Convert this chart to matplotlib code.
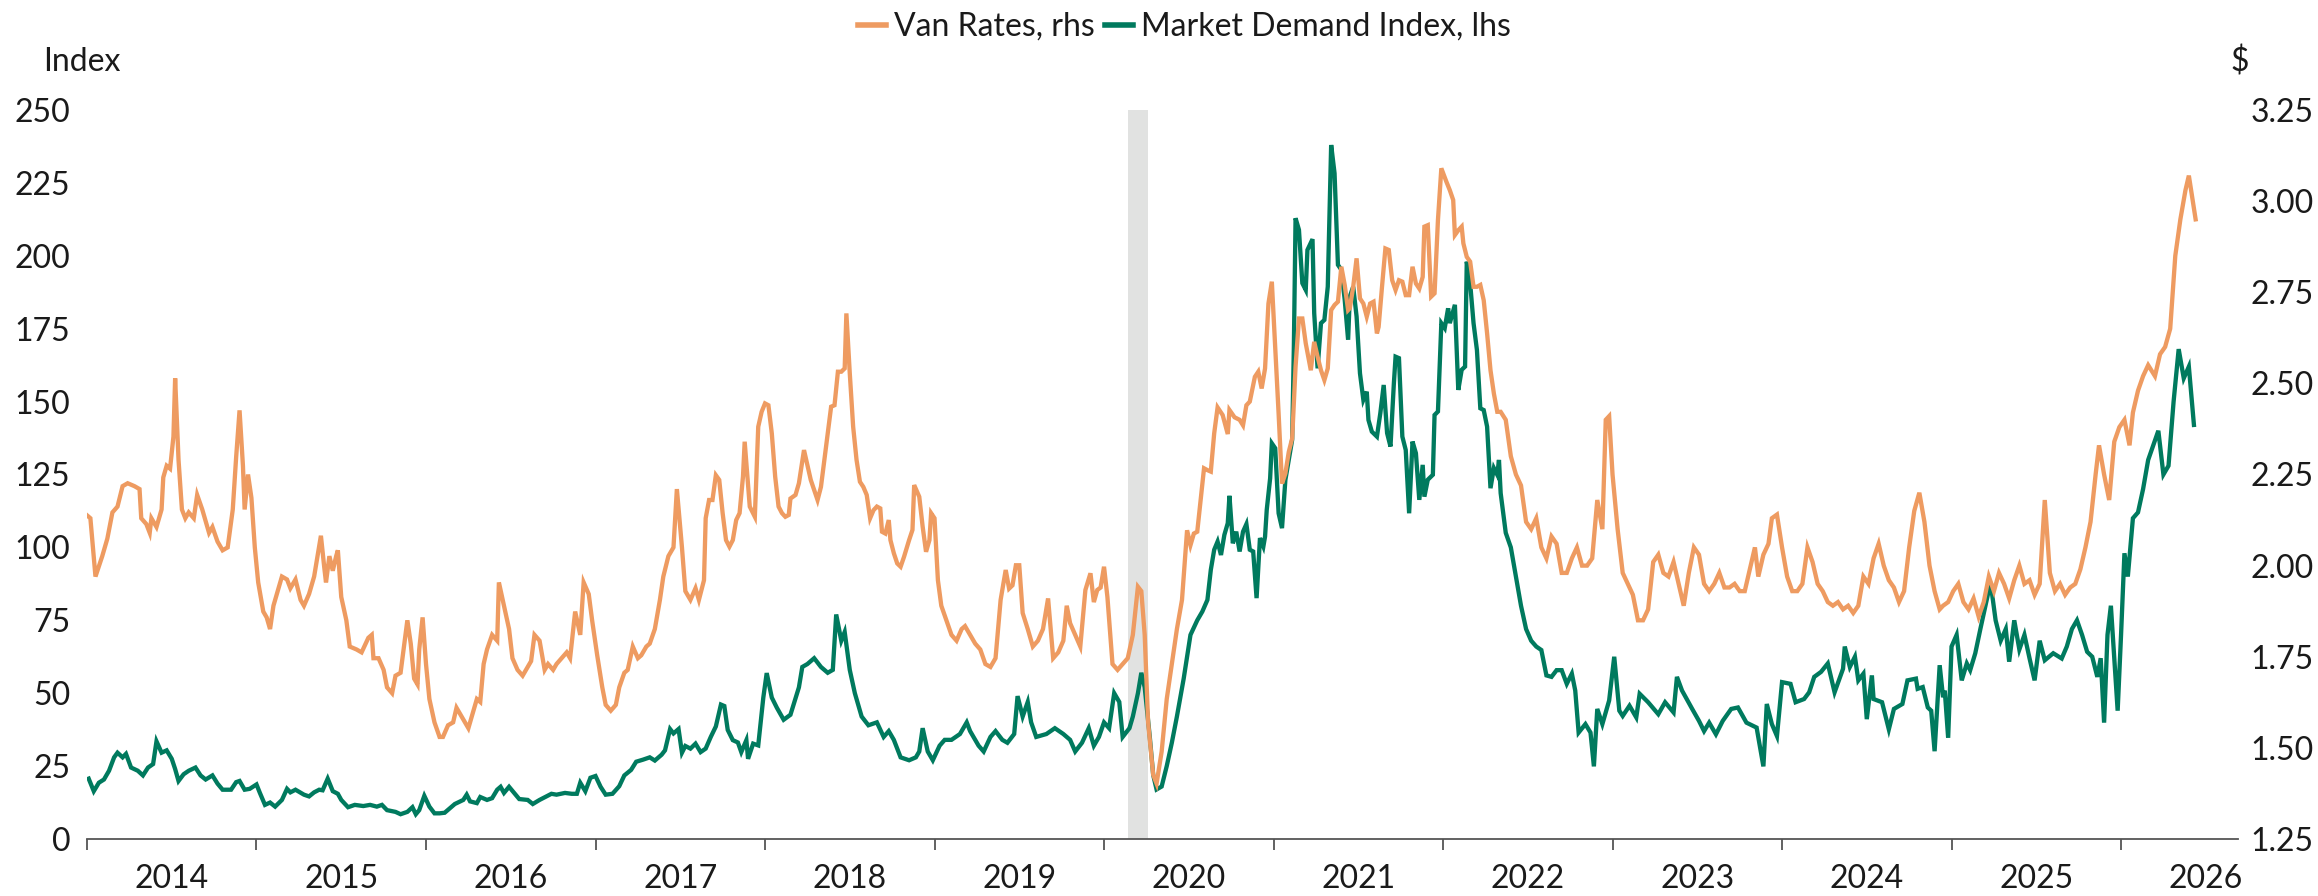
import matplotlib.pyplot as plt
from matplotlib.lines import Line2D
import numpy as np

plt.rcParams['font.family'] = ['Lato', 'DejaVu Sans']

# Market Demand Index (lhs), decimal years
mdi_years = [
    2014.01, 2014.04, 2014.07, 2014.10, 2014.13, 2014.16, 2014.18, 2014.21, 2014.23, 2014.26,
    2014.30, 2014.33, 2014.36, 2014.39, 2014.41, 2014.44, 2014.47, 2014.50, 2014.52, 2014.54,
    2014.57, 2014.60, 2014.64, 2014.67, 2014.70, 2014.74, 2014.77, 2014.80, 2014.85, 2014.88,
    2014.90, 2014.93, 2014.96, 2015.00, 2015.02, 2015.05, 2015.08, 2015.11, 2015.15, 2015.18,
    2015.20, 2015.23, 2015.28, 2015.31, 2015.34, 2015.37, 2015.39, 2015.42, 2015.45, 2015.48,
    2015.50, 2015.54, 2015.58, 2015.63, 2015.67, 2015.71, 2015.74, 2015.77, 2015.82, 2015.85,
    2015.89, 2015.92, 2015.94, 2015.96, 2015.99, 2016.02, 2016.05, 2016.08, 2016.11, 2016.14,
    2016.17, 2016.22, 2016.24, 2016.26, 2016.30, 2016.32, 2016.36, 2016.39, 2016.42, 2016.44,
    2016.46, 2016.49, 2016.52, 2016.55, 2016.60, 2016.63, 2016.67, 2016.71, 2016.74, 2016.77,
    2016.82, 2016.86, 2016.89, 2016.91, 2016.94, 2016.97, 2017.00, 2017.03, 2017.06, 2017.10,
    2017.14, 2017.17, 2017.21, 2017.24, 2017.28, 2017.32, 2017.35, 2017.39, 2017.41, 2017.44,
    2017.46, 2017.49, 2017.51, 2017.53, 2017.56, 2017.59, 2017.62, 2017.65, 2017.68, 2017.71,
    2017.74, 2017.76, 2017.78, 2017.81, 2017.84, 2017.86, 2017.89, 2017.90, 2017.93, 2017.96,
    2017.99, 2018.01, 2018.04, 2018.07, 2018.11, 2018.15, 2018.20, 2018.22, 2018.25, 2018.29,
    2018.33, 2018.37, 2018.40, 2018.42, 2018.45, 2018.47, 2018.50, 2018.53, 2018.57, 2018.61,
    2018.66, 2018.70, 2018.73, 2018.76, 2018.80, 2018.85, 2018.89, 2018.91, 2018.93, 2018.96,
    2018.99, 2019.03, 2019.06, 2019.10, 2019.15, 2019.19, 2019.21, 2019.26, 2019.29, 2019.33,
    2019.36, 2019.40, 2019.43, 2019.47, 2019.49, 2019.52, 2019.55, 2019.57, 2019.60, 2019.66,
    2019.71, 2019.76, 2019.80, 2019.83, 2019.87, 2019.91, 2019.94, 2019.97, 2020.00, 2020.03,
    2020.06, 2020.09, 2020.11, 2020.15, 2020.17, 2020.20, 2020.22, 2020.24, 2020.27, 2020.29,
    2020.31, 2020.34, 2020.37, 2020.40, 2020.43, 2020.47, 2020.51, 2020.55, 2020.58, 2020.61,
    2020.63, 2020.65, 2020.67, 2020.69, 2020.71, 2020.73, 2020.74, 2020.76, 2020.78, 2020.80,
    2020.82, 2020.84, 2020.86, 2020.88, 2020.90, 2020.92, 2020.94, 2020.95, 2020.96, 2020.98,
    2020.99, 2021.01, 2021.03, 2021.05, 2021.07, 2021.09, 2021.11, 2021.12, 2021.13, 2021.15,
    2021.17, 2021.19, 2021.20, 2021.23, 2021.24, 2021.26, 2021.28, 2021.30, 2021.32, 2021.34,
    2021.36, 2021.38, 2021.40, 2021.42, 2021.44, 2021.45, 2021.47, 2021.49, 2021.51, 2021.53,
    2021.55, 2021.56, 2021.58, 2021.61, 2021.63, 2021.65, 2021.67, 2021.69, 2021.71, 2021.72,
    2021.74, 2021.76, 2021.78, 2021.80, 2021.82, 2021.84, 2021.86, 2021.88, 2021.89, 2021.91,
    2021.94, 2021.95, 2021.97, 2021.99, 2022.01, 2022.03, 2022.04, 2022.07, 2022.09, 2022.11,
    2022.13, 2022.14, 2022.16, 2022.18, 2022.20, 2022.22, 2022.24, 2022.26, 2022.28, 2022.30,
    2022.32, 2022.33, 2022.34, 2022.37, 2022.40, 2022.43, 2022.46, 2022.49, 2022.52, 2022.55,
    2022.58, 2022.61, 2022.64, 2022.67, 2022.70, 2022.73, 2022.76, 2022.78, 2022.80, 2022.84,
    2022.87, 2022.89, 2022.91, 2022.94, 2022.98, 2023.01, 2023.04, 2023.06, 2023.10, 2023.14,
    2023.16, 2023.21, 2023.27, 2023.31, 2023.36, 2023.38, 2023.41, 2023.47, 2023.51, 2023.54,
    2023.57, 2023.61, 2023.65, 2023.70, 2023.74, 2023.79, 2023.85, 2023.89, 2023.91, 2023.94,
    2023.97, 2024.00, 2024.05, 2024.08, 2024.13, 2024.16, 2024.19, 2024.23, 2024.27, 2024.31,
    2024.36, 2024.37, 2024.40, 2024.43, 2024.45, 2024.48, 2024.50, 2024.53, 2024.54, 2024.59,
    2024.63, 2024.66, 2024.71, 2024.74, 2024.79, 2024.80, 2024.83, 2024.86, 2024.88, 2024.90,
    2024.93, 2024.95, 2024.96, 2024.98, 2025.00, 2025.03, 2025.06, 2025.09, 2025.11, 2025.14,
    2025.17, 2025.20, 2025.23, 2025.26, 2025.29, 2025.32, 2025.34, 2025.37, 2025.40, 2025.43,
    2025.46, 2025.49, 2025.52, 2025.55, 2025.60, 2025.65, 2025.68, 2025.71, 2025.74, 2025.77,
    2025.80, 2025.83, 2025.86, 2025.88, 2025.90, 2025.92, 2025.94, 2025.96, 2025.98, 2026.00,
    2026.02, 2026.04, 2026.07, 2026.10, 2026.13, 2026.16, 2026.19, 2026.22, 2026.25, 2026.28,
    2026.31, 2026.34, 2026.37, 2026.40, 2026.43,
]
mdi_values = [
    20.7, 16.4, 19.3, 20.4, 23.4, 28.0, 29.6, 28.0, 29.2, 24.5,
    23.4, 21.8, 24.5, 25.7, 33.5, 29.6, 30.4, 27.5, 24.0, 19.9,
    22.2, 23.4, 24.5, 21.8, 20.4, 21.8, 19.0, 16.9, 16.9, 19.5,
    19.9, 16.9, 17.2, 18.7, 15.8, 11.7, 12.5, 11.1, 13.4, 17.2,
    16.0, 16.9, 15.2, 14.6, 16.0, 16.9, 16.7, 20.7, 16.4, 15.5,
    13.4, 10.9, 11.7, 11.3, 11.7, 11.1, 11.7, 9.9, 9.3, 8.5,
    9.3, 10.9, 8.5, 9.9, 14.8, 11.1, 8.8, 8.8, 9.0, 10.5,
    12.0, 13.4, 15.2, 12.9, 12.3, 14.4, 13.4, 14.0, 16.9, 17.9,
    15.8, 17.9, 15.8, 13.7, 13.4, 12.0, 13.4, 14.6, 15.5, 15.2,
    15.8, 15.5, 15.5, 19.3, 16.4, 21.0, 21.6, 17.9, 15.2, 15.5,
    18.1, 21.8, 23.7, 26.5, 27.2, 28.0, 26.9, 28.9, 30.4, 37.7,
    36.2, 37.7, 29.6, 31.9, 31.0, 32.7, 29.8, 31.0, 35.0, 38.6,
    46.1, 45.6, 37.4, 33.9, 33.1, 29.8, 33.9, 27.5, 32.7, 32.1,
    48.5, 56.9, 48.5, 45.0, 40.9, 42.6, 52.0, 59.0, 60.0, 62.0,
    59.0, 57.0, 58.0, 77.0, 68.0, 71.0, 58.0, 50.0, 42.0, 39.0,
    40.0, 35.0, 37.0, 34.0, 28.0, 27.0, 28.0, 30.0, 38.0, 30.0,
    27.0, 32.0, 34.0, 34.0, 36.0, 40.0, 37.0, 32.0, 30.0, 35.0,
    37.0, 34.0, 33.0, 36.0, 49.0, 42.0, 47.0, 40.0, 35.0, 36.0,
    38.0, 36.0, 34.0, 30.0, 33.0, 38.0, 32.0, 35.0, 40.0, 38.0,
    50.0, 47.0, 35.0, 38.0, 42.0, 50.0, 57.0, 52.0, 35.0, 22.0,
    17.0, 18.0, 25.0, 33.0, 42.0, 55.0, 70.0, 75.0, 78.0, 82.0,
    92.3, 99.2, 102.0, 97.4, 104.3, 108.3, 117.7, 101.4, 105.4, 98.6,
    105.4, 108.0, 99.2, 98.6, 82.6, 103.2, 100.3, 103.7, 112.9, 123.7,
    135.7, 134.0, 111.7, 106.6, 123.2, 130.0, 136.9, 168.9, 212.9, 208.9,
    190.6, 188.3, 202.0, 205.7, 180.3, 161.4, 176.9, 178.0, 189.4, 238.0,
    228.3, 196.9, 195.2, 184.9, 171.2, 186.0, 189.4, 179.2, 159.7, 150.6,
    153.4, 143.7, 139.7, 138.0, 146.0, 155.7, 139.2, 134.6, 156.3, 165.4,
    164.9, 138.0, 133.4, 111.7, 136.3, 132.3, 116.3, 128.3, 117.4, 123.2,
    124.9, 145.4, 146.6, 176.9, 175.2, 182.0, 176.9, 183.2, 154.0, 160.9,
    162.0, 198.0, 190.6, 176.9, 167.7, 147.7, 147.1, 141.4, 120.3, 127.2,
    124.9, 130.0, 118.6, 105.0, 100.0, 90.0, 80.0, 72.0, 68.0, 66.0,
    64.8, 56.1, 55.6, 57.9, 57.9, 53.2, 56.7, 50.9, 36.5, 39.4,
    36.5, 24.9, 44.6, 39.4, 47.5, 62.5, 44.0, 42.2, 45.7, 41.7,
    49.8, 46.9, 42.8, 46.9, 43.4, 55.6, 50.9, 44.6, 40.5, 37.0,
    39.9, 35.9, 40.5, 44.6, 45.1, 39.9, 38.2, 24.9, 46.3, 39.4,
    35.3, 53.8, 53.2, 46.9, 48.0, 50.3, 55.6, 57.3, 60.2, 50.3,
    58.4, 66.0, 59.0, 62.5, 54.4, 56.7, 41.1, 56.1, 48.0, 46.9,
    37.6, 44.6, 46.3, 54.4, 55.0, 51.5, 52.1, 45.1, 44.0, 30.1,
    59.6, 48.6, 50.9, 34.7, 66.0, 70.0, 54.4, 60.2, 57.9, 63.7,
    72.0, 80.0, 88.0, 75.0, 68.0, 72.0, 60.8, 75.0, 65.0, 70.0,
    62.0, 54.4, 68.0, 61.3, 63.7, 61.9, 66.0, 72.0, 75.0, 70.0,
    64.2, 62.5, 55.6, 62.0, 39.9, 70.0, 80.0, 62.0, 44.0, 70.0,
    98.0, 90.0, 110.0, 112.0, 120.0, 130.0, 135.0, 140.0, 125.0, 128.0,
    150.0, 168.0, 158.0, 162.0, 142.0,
]

# Van Rates (rhs, $/mile), decimal years
van_years = [
    2014.00, 2014.02, 2014.05, 2014.09, 2014.12, 2014.15, 2014.18, 2014.21, 2014.24, 2014.28,
    2014.31, 2014.32, 2014.35, 2014.37, 2014.38, 2014.41, 2014.44, 2014.45, 2014.47, 2014.49,
    2014.51, 2014.52, 2014.54, 2014.56, 2014.58, 2014.60, 2014.63, 2014.65, 2014.68, 2014.72,
    2014.74, 2014.77, 2014.80, 2014.83, 2014.86, 2014.88, 2014.90, 2014.92, 2014.93, 2014.95,
    2014.97, 2014.99, 2015.01, 2015.04, 2015.06, 2015.08, 2015.10, 2015.13, 2015.15, 2015.18,
    2015.20, 2015.23, 2015.26, 2015.28, 2015.31, 2015.34, 2015.36, 2015.38, 2015.40, 2015.41,
    2015.43, 2015.45, 2015.47, 2015.48, 2015.50, 2015.53, 2015.55, 2015.59, 2015.62, 2015.66,
    2015.68, 2015.69, 2015.72, 2015.75, 2015.77, 2015.80, 2015.82, 2015.85, 2015.87, 2015.89,
    2015.91, 2015.93, 2015.95, 2015.96, 2015.98, 2016.00, 2016.02, 2016.05, 2016.08, 2016.10,
    2016.13, 2016.16, 2016.18, 2016.20, 2016.23, 2016.25, 2016.28, 2016.30, 2016.32, 2016.34,
    2016.36, 2016.39, 2016.42, 2016.43, 2016.46, 2016.49, 2016.51, 2016.54, 2016.57, 2016.59,
    2016.62, 2016.64, 2016.67, 2016.70, 2016.72, 2016.75, 2016.77, 2016.80, 2016.83, 2016.85,
    2016.88, 2016.91, 2016.93, 2016.96, 2016.98, 2017.01, 2017.04, 2017.06, 2017.09, 2017.12,
    2017.14, 2017.17, 2017.19, 2017.22, 2017.25, 2017.27, 2017.30, 2017.32, 2017.35, 2017.38,
    2017.40, 2017.43, 2017.46, 2017.48, 2017.51, 2017.53, 2017.56, 2017.59, 2017.61, 2017.64,
    2017.65, 2017.67, 2017.69, 2017.71, 2017.73, 2017.75, 2017.77, 2017.79, 2017.81, 2017.83,
    2017.85, 2017.87, 2017.88, 2017.91, 2017.94, 2017.96, 2017.98, 2018.00, 2018.02, 2018.04,
    2018.06, 2018.08, 2018.10, 2018.12, 2018.14, 2018.15, 2018.18, 2018.20, 2018.23, 2018.27,
    2018.31, 2018.33, 2018.36, 2018.39, 2018.41, 2018.43, 2018.45, 2018.47, 2018.48, 2018.50,
    2018.52, 2018.54, 2018.56, 2018.58, 2018.60, 2018.62, 2018.64, 2018.66, 2018.68, 2018.69,
    2018.71, 2018.73, 2018.74, 2018.76, 2018.78, 2018.80, 2018.82, 2018.85, 2018.87, 2018.88,
    2018.91, 2018.93, 2018.95, 2018.97, 2018.98, 2019.00, 2019.02, 2019.04, 2019.07, 2019.10,
    2019.13, 2019.16, 2019.18, 2019.21, 2019.24, 2019.27, 2019.30, 2019.33, 2019.36, 2019.39,
    2019.42, 2019.44, 2019.46, 2019.48, 2019.50, 2019.52, 2019.55, 2019.58, 2019.61, 2019.64,
    2019.67, 2019.70, 2019.73, 2019.76, 2019.78, 2019.80, 2019.83, 2019.86, 2019.89, 2019.92,
    2019.94, 2019.96, 2019.98, 2020.00, 2020.02, 2020.05, 2020.08, 2020.11, 2020.14, 2020.17,
    2020.20, 2020.22, 2020.24, 2020.26, 2020.29, 2020.31, 2020.34, 2020.37, 2020.40, 2020.43,
    2020.46, 2020.49, 2020.51, 2020.53, 2020.55, 2020.57, 2020.59, 2020.61, 2020.63, 2020.65,
    2020.67, 2020.70, 2020.73, 2020.74, 2020.77, 2020.80, 2020.82, 2020.84, 2020.86, 2020.89,
    2020.91, 2020.93, 2020.95, 2020.97, 2020.99, 2021.01, 2021.03, 2021.05, 2021.07, 2021.09,
    2021.11, 2021.13, 2021.15, 2021.17, 2021.19, 2021.22, 2021.24, 2021.26, 2021.28, 2021.30,
    2021.32, 2021.34, 2021.36, 2021.38, 2021.40, 2021.42, 2021.44, 2021.45, 2021.47, 2021.49,
    2021.51, 2021.53, 2021.55, 2021.57, 2021.59, 2021.61, 2021.62, 2021.64, 2021.66, 2021.68,
    2021.70, 2021.72, 2021.74, 2021.76, 2021.78, 2021.80, 2021.82, 2021.84, 2021.86, 2021.88,
    2021.89, 2021.91, 2021.93, 2021.95, 2021.97, 2021.99, 2022.02, 2022.04, 2022.06, 2022.07,
    2022.09, 2022.11, 2022.12, 2022.14, 2022.16, 2022.18, 2022.20, 2022.22, 2022.24, 2022.26,
    2022.28, 2022.30, 2022.32, 2022.34, 2022.37, 2022.40, 2022.43, 2022.46, 2022.49, 2022.52,
    2022.55, 2022.58, 2022.61, 2022.64, 2022.67, 2022.70, 2022.73, 2022.76, 2022.79, 2022.82,
    2022.85, 2022.88, 2022.91, 2022.94, 2022.96, 2022.98, 2023.00, 2023.03, 2023.06, 2023.09,
    2023.12, 2023.15, 2023.18, 2023.21, 2023.24, 2023.27, 2023.30, 2023.33, 2023.36, 2023.39,
    2023.42, 2023.45, 2023.48, 2023.51, 2023.54, 2023.57, 2023.60, 2023.63, 2023.66, 2023.69,
    2023.72, 2023.75, 2023.78, 2023.81, 2023.84, 2023.86, 2023.89, 2023.92, 2023.94, 2023.97,
    2024.00, 2024.03, 2024.06, 2024.09, 2024.12, 2024.15, 2024.18, 2024.21, 2024.24, 2024.27,
    2024.30, 2024.33, 2024.36, 2024.39, 2024.42, 2024.45, 2024.48, 2024.51, 2024.54, 2024.57,
    2024.60, 2024.63, 2024.66, 2024.69, 2024.72, 2024.75, 2024.78, 2024.81, 2024.84, 2024.87,
    2024.90, 2024.93, 2024.95, 2024.98, 2025.01, 2025.04, 2025.07, 2025.10, 2025.13, 2025.16,
    2025.19, 2025.22, 2025.25, 2025.28, 2025.31, 2025.34, 2025.37, 2025.40, 2025.43, 2025.46,
    2025.49, 2025.52, 2025.55, 2025.58, 2025.61, 2025.64, 2025.67, 2025.70, 2025.73, 2025.76,
    2025.79, 2025.82, 2025.85, 2025.87, 2025.90, 2025.93, 2025.96, 2025.99, 2026.02, 2026.05,
    2026.07, 2026.10, 2026.13, 2026.16, 2026.20, 2026.23, 2026.26, 2026.29, 2026.32, 2026.35,
    2026.38, 2026.40, 2026.44,
]
van_values = [
    2.138, 2.130, 1.970, 2.026, 2.074, 2.146, 2.162, 2.218, 2.226, 2.218,
    2.210, 2.130, 2.114, 2.090, 2.130, 2.106, 2.154, 2.242, 2.274, 2.266,
    2.354, 2.514, 2.290, 2.154, 2.130, 2.146, 2.130, 2.194, 2.154, 2.090,
    2.106, 2.066, 2.042, 2.050, 2.154, 2.298, 2.426, 2.274, 2.154, 2.250,
    2.186, 2.050, 1.954, 1.874, 1.858, 1.826, 1.890, 1.938, 1.970, 1.962,
    1.938, 1.962, 1.906, 1.890, 1.922, 1.970, 2.026, 2.082, 1.994, 1.954,
    2.026, 1.986, 2.026, 2.042, 1.914, 1.850, 1.778, 1.770, 1.762, 1.802,
    1.810, 1.746, 1.746, 1.714, 1.666, 1.650, 1.698, 1.706, 1.778, 1.850,
    1.786, 1.690, 1.674, 1.770, 1.858, 1.730, 1.634, 1.570, 1.530, 1.530,
    1.562, 1.570, 1.610, 1.594, 1.570, 1.554, 1.602, 1.634, 1.626, 1.730,
    1.770, 1.810, 1.794, 1.954, 1.890, 1.826, 1.746, 1.714, 1.698, 1.714,
    1.738, 1.810, 1.794, 1.714, 1.730, 1.714, 1.730, 1.746, 1.762, 1.746,
    1.874, 1.810, 1.954, 1.922, 1.850, 1.754, 1.666, 1.618, 1.602, 1.618,
    1.666, 1.706, 1.714, 1.778, 1.746, 1.754, 1.778, 1.786, 1.826, 1.906,
    1.970, 2.026, 2.050, 2.210, 2.050, 1.930, 1.906, 1.938, 1.906, 1.960,
    2.130, 2.180, 2.180, 2.248, 2.235, 2.144, 2.070, 2.052, 2.070, 2.125,
    2.144, 2.244, 2.340, 2.162, 2.134, 2.381, 2.422, 2.445, 2.440, 2.363,
    2.244, 2.162, 2.144, 2.134, 2.139, 2.184, 2.194, 2.226, 2.317, 2.235,
    2.180, 2.216, 2.326, 2.436, 2.440, 2.532, 2.532, 2.541, 2.692, 2.528,
    2.381, 2.290, 2.230, 2.216, 2.194, 2.130, 2.152, 2.162, 2.157, 2.093,
    2.088, 2.125, 2.070, 2.034, 2.006, 1.997, 2.024, 2.070, 2.098, 2.221,
    2.189, 2.107, 2.038, 2.070, 2.144, 2.130, 1.960, 1.890, 1.850, 1.810,
    1.794, 1.826, 1.834, 1.810, 1.786, 1.770, 1.730, 1.722, 1.746, 1.906,
    1.988, 1.937, 1.946, 2.001, 2.001, 1.870, 1.826, 1.778, 1.794, 1.826,
    1.910, 1.746, 1.762, 1.794, 1.890, 1.842, 1.810, 1.778, 1.933, 1.979,
    1.900, 1.933, 1.940, 1.997, 1.914, 1.730, 1.714, 1.730, 1.746, 1.810,
    1.942, 1.930, 1.810, 1.570, 1.426, 1.402, 1.490, 1.634, 1.730, 1.826,
    1.906, 2.097, 2.056, 2.088, 2.093, 2.180, 2.267, 2.262, 2.258, 2.363,
    2.434, 2.413, 2.361, 2.427, 2.407, 2.400, 2.385, 2.440, 2.450, 2.518,
    2.532, 2.486, 2.541, 2.719, 2.779, 2.600, 2.417, 2.225, 2.253, 2.312,
    2.349, 2.546, 2.678, 2.678, 2.610, 2.536, 2.614, 2.573, 2.536, 2.509,
    2.541, 2.701, 2.715, 2.724, 2.820, 2.770, 2.701, 2.706, 2.765, 2.843,
    2.733, 2.719, 2.683, 2.719, 2.724, 2.637, 2.655, 2.765, 2.870, 2.866,
    2.783, 2.756, 2.783, 2.779, 2.742, 2.742, 2.820, 2.774, 2.760, 2.792,
    2.930, 2.934, 2.738, 2.747, 2.948, 3.090, 3.053, 3.030, 3.003, 2.907,
    2.920, 2.930, 2.884, 2.847, 2.834, 2.765, 2.765, 2.770, 2.728, 2.637,
    2.536, 2.472, 2.422, 2.422, 2.400, 2.300, 2.250, 2.220, 2.120, 2.100,
    2.130, 2.050, 2.020, 2.080, 2.060, 1.980, 1.980, 2.020, 2.050, 2.000,
    2.000, 2.020, 2.180, 2.100, 2.400, 2.410, 2.250, 2.100, 1.980, 1.950,
    1.920, 1.850, 1.850, 1.880, 2.010, 2.030, 1.980, 1.970, 2.010, 1.950,
    1.890, 1.980, 2.050, 2.030, 1.950, 1.930, 1.950, 1.980, 1.940, 1.940,
    1.950, 1.930, 1.930, 1.990, 2.050, 1.970, 2.030, 2.060, 2.130, 2.140,
    2.050, 1.970, 1.930, 1.930, 1.950, 2.050, 2.010, 1.950, 1.930, 1.900,
    1.890, 1.900, 1.880, 1.890, 1.870, 1.890, 1.970, 1.950, 2.020, 2.060,
    2.000, 1.960, 1.940, 1.900, 1.930, 2.050, 2.150, 2.200, 2.120, 2.000,
    1.930, 1.880, 1.890, 1.900, 1.930, 1.950, 1.900, 1.880, 1.910, 1.860,
    1.900, 1.970, 1.930, 1.980, 1.950, 1.910, 1.960, 2.000, 1.950, 1.960,
    1.920, 1.950, 2.180, 1.980, 1.930, 1.950, 1.920, 1.940, 1.950, 1.990,
    2.050, 2.120, 2.250, 2.330, 2.250, 2.180, 2.340, 2.380, 2.400, 2.330,
    2.420, 2.480, 2.520, 2.550, 2.520, 2.580, 2.600, 2.650, 2.850, 2.950,
    3.030, 3.070, 2.950,
]

year_ticks = np.arange(2014, 2027)
year_labels = [str(y) for y in range(2014, 2027)]
covid_band = (2020.14, 2020.26)

orange = '#EE9B61'
green = '#007A5E'
text_color = '#1a1a1a'

fig = plt.figure(figsize=(23.18, 8.96), dpi=100)
ax = fig.add_axes([0.03753, 0.06362, 0.92796, 0.81361])
ax2 = ax.twinx()

ax.axvspan(*covid_band, color='#E1E2E1', lw=0, zorder=0)
ax.plot(mdi_years, mdi_values, color=green, lw=3.1, solid_joinstyle='miter', zorder=3)
ax2.plot(van_years, van_values, color=orange, lw=3.1, solid_joinstyle='miter', zorder=3)

ax.set_xlim(2014.0, 2026.69)
ax.set_ylim(0, 250)
ax2.set_ylim(1.25, 3.25)
ax.set_yticks(np.arange(0, 251, 25))
ax2.set_yticks(np.arange(1.25, 3.26, 0.25))
ax2.set_yticklabels([f'{v:.2f}' for v in np.arange(1.25, 3.26, 0.25)])

for a in (ax, ax2):
    for s in ('top', 'left', 'right'):
        a.spines[s].set_visible(False)
ax2.spines['bottom'].set_visible(False)
ax.spines['bottom'].set_color('#555555')
ax.spines['bottom'].set_linewidth(1.3)

ax.tick_params(axis='y', length=0, pad=12, labelsize=23, labelcolor=text_color)
ax2.tick_params(axis='y', length=0, pad=9, labelsize=23, labelcolor=text_color)

# year boundaries as ticks, year names centred in between
ax.set_xticks(year_ticks)
ax.set_xticklabels([])
ax.set_xticks(year_ticks + 0.5, minor=True)
ax.set_xticklabels(year_labels, minor=True)
ax.tick_params(axis='x', which='major', length=8, width=1.3, color='#555555', direction='out')
ax.tick_params(axis='x', which='minor', length=0, pad=18, labelsize=23, labelcolor=text_color)

fig.text(43 / 2318, 1 - 62 / 896, 'Index', fontsize=23, color=text_color, ha='left', va='center')
fig.text(2230 / 2318, 1 - 62 / 896, '$', fontsize=23, color=text_color, ha='left', va='center')

handles = [Line2D([], [], color=orange, lw=4), Line2D([], [], color=green, lw=4)]
fig.legend(handles, ['Van Rates, rhs', 'Market Demand Index, lhs'], loc='center',
           bbox_to_anchor=(0.511, 1 - 27 / 896), ncol=2, frameon=False, fontsize=23,
           handlelength=0.9, handletextpad=0.25, columnspacing=0.3, labelcolor=text_color,
           borderpad=0)

fig.savefig('out.png', dpi=100)
